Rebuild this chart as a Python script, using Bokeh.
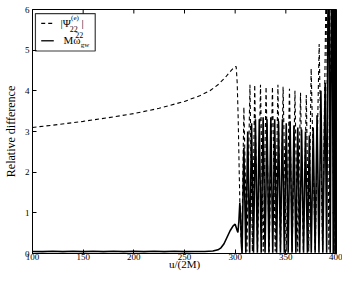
import math
from bokeh.plotting import figure
from bokeh.models import Range1d, FixedTicker, Label, ColumnDataSource, BoxAnnotation
from bokeh.embed import file_html
from bokeh.resources import INLINE

# |Psi_22^(e)| relative difference (x 1e-6), dashed
psi_u = [100, 125, 150, 175, 200, 225, 250, 265, 275, 283, 290, 295, 299, 301, 302, 303, 304, 305, 306.5,
         308.6, 311.6, 314.6, 317.0, 319.3, 322.1, 325.0, 327.7, 330.5, 333.6, 336.8, 339.5, 342.2, 344.7,
         347.3, 350.4, 353.6, 356.3, 359.0, 361.7, 364.5, 367.3, 370.2, 372.6, 375.0, 379.0, 382.9, 386.3,
         389.8, 392.5, 395.2, 397.6, 399.2, 400]
psi_v = [3.10, 3.17, 3.25, 3.34, 3.44, 3.57, 3.74, 3.88, 4.00, 4.15, 4.32, 4.47, 4.58, 4.60, 4.20, 3.30, 2.00, 0.80, 0.10,
         3.60, 0.05, 4.15, 0.05, 4.15, 0.05, 4.15, 0.05, 4.10, 0.05, 4.10, 0.05, 4.15, 0.05,
         4.10, 0.05, 4.05, 0.05, 4.00, 0.05, 3.95, 0.05, 3.90, 0.05, 4.55, 0.05, 5.15, 0.05,
         6.80, 0.10, 7.00, 0.05, 7.00, 0.10]

# M omega_gw^22 relative difference (x 1e-6), solid
omega_u = [100, 110, 120, 130, 140, 150, 160, 170, 180, 190, 200, 210, 220, 230, 240, 250, 260, 270,
           278, 283, 286, 289, 292, 295, 298, 300, 301.5, 302.7, 303.7, 304.6, 305.4, 306.2, 306.8,
           308.6, 310.5, 312.4, 314.3, 316.2, 318.1, 320.0, 321.9, 323.8, 325.7, 327.6, 329.5, 331.4, 333.3,
           335.2, 337.1, 339.0, 340.9, 342.8, 344.7, 346.6, 348.5, 350.4, 352.3, 354.2, 356.1, 358.0, 359.9,
           361.8, 363.7, 365.6, 367.5, 369.4, 371.3, 373.2, 375.1, 377.0, 378.9, 380.8, 382.7, 384.6, 386.5,
           388.8, 390.3, 392.2, 393.8, 395.5, 396.8, 397.8, 398.6, 399.3, 400]
omega_v = [0.05, 0.045, 0.055, 0.045, 0.055, 0.045, 0.055, 0.045, 0.055, 0.045, 0.055, 0.045, 0.055, 0.045, 0.055, 0.045, 0.05, 0.05,
           0.06, 0.09, 0.14, 0.24, 0.40, 0.56, 0.68, 0.72, 0.60, 0.52, 0.80, 1.25, 0.90, 0.20, 0.00,
           2.60, 0.02, 3.00, 0.02, 3.20, 0.02, 3.30, 0.02, 3.30, 0.02, 3.35, 0.02, 3.30, 0.02,
           3.35, 0.02, 3.30, 0.02, 3.25, 0.02, 3.30, 0.02, 3.20, 0.02, 3.25, 0.02, 3.15, 0.02,
           3.10, 0.02, 3.05, 0.02, 3.00, 0.02, 2.90, 0.02, 3.10, 0.02, 3.40, 0.02, 4.00, 0.02,
           4.20, 0.02, 9.00, 0.02, 9.00, 0.00, 9.00, 0.00, 9.00, 0.00]

x_ticks = [100, 150, 200, 250, 300, 350, 400]
y_ticks = [0, 1, 2, 3, 4, 5, 6]

FONT = "Liberation Serif"

p = figure(width=342, height=272, output_backend="svg", toolbar_location=None,
           x_range=Range1d(100, 400), y_range=Range1d(0, 6),
           min_border_left=4, min_border_right=6, min_border_top=9, min_border_bottom=0)
p.background_fill_color = "white"
p.border_fill_color = "white"
p.outline_line_color = "black"
p.outline_line_width = 1
p.xgrid.visible = False
p.ygrid.visible = False

for ax, tk in ((p.xaxis[0], x_ticks), (p.yaxis[0], y_ticks)):
    ax.ticker = FixedTicker(ticks=tk)
    ax.major_tick_in = 4
    ax.major_tick_out = 0
    ax.minor_tick_line_color = None
    ax.major_label_text_font = FONT
    ax.major_label_text_font_size = "9px"
    ax.major_label_text_color = "black"
    ax.axis_line_color = "black"
    ax.major_tick_line_color = "black"
    ax.axis_label_text_font = FONT
    ax.axis_label_text_font_style = "normal"
    ax.axis_label_text_font_size = "11px"
    ax.axis_label_text_color = "black"
    ax.major_label_standoff = 0
    ax.axis_label_standoff = -5

p.xaxis[0].axis_label = "u/(2M)"
p.yaxis[0].axis_label = "Relative difference"
p.yaxis[0].axis_label_text_font_size = "12px"
p.yaxis[0].axis_label_standoff = 4
p.yaxis[0].major_label_standoff = 3

# inward ticks on the top and right edges of the box
p.ray(x=x_ticks, y=[6] * len(x_ticks), length=4, length_units="screen",
      angle=-math.pi / 2, line_color="black", line_width=1)
p.ray(x=[400] * len(y_ticks), y=y_ticks, length=4, length_units="screen",
      angle=math.pi, line_color="black", line_width=1)

src_psi = ColumnDataSource(dict(u=psi_u, v=psi_v))
src_om = ColumnDataSource(dict(u=omega_u, v=omega_v))
p.line("u", "v", source=src_om, line_color="black", line_width=1.6)
p.line("u", "v", source=src_psi, line_color="black", line_width=1.1, line_dash="4 3")

# legend box (MATLAB style)
p.add_layout(BoxAnnotation(left=102.9, right=161.9, bottom=4.98, top=5.90,
                           fill_color="white", fill_alpha=1.0, line_color="#3a3a3a",
                           line_width=1.2, line_alpha=1.0, level="underlay"))
leg_x = [108.6, 121.0]
p.line(leg_x, [5.66, 5.66], line_color="black", line_width=1.1, line_dash="4 3")
p.line(leg_x, [5.23, 5.23], line_color="#222222", line_width=1.6)

def lab(x, y, t, size, baseline="middle"):
    p.add_layout(Label(x=x, y=y, text=t, text_font=FONT, text_font_size=size,
                       text_color="black", text_baseline=baseline, text_align="left"))

lab(127.6, 5.67, "|Ψ", "11px")
lab(138.1, 5.80, "(e)", "7px")
lab(136.8, 5.52, "22", "8px")
lab(148.3, 5.67, "|", "11px")
lab(142.2, 5.38, "22", "8px")
lab(130.5, 5.24, "Mω", "11px")
lab(147.6, 5.13, "gw", "7px")

# exponent label above the axis
lab(103.0, 6.12, "x 10", "8px")
lab(117.0, 6.18, "−6", "6px")

open("out.html", "w").write(file_html(p, INLINE))
